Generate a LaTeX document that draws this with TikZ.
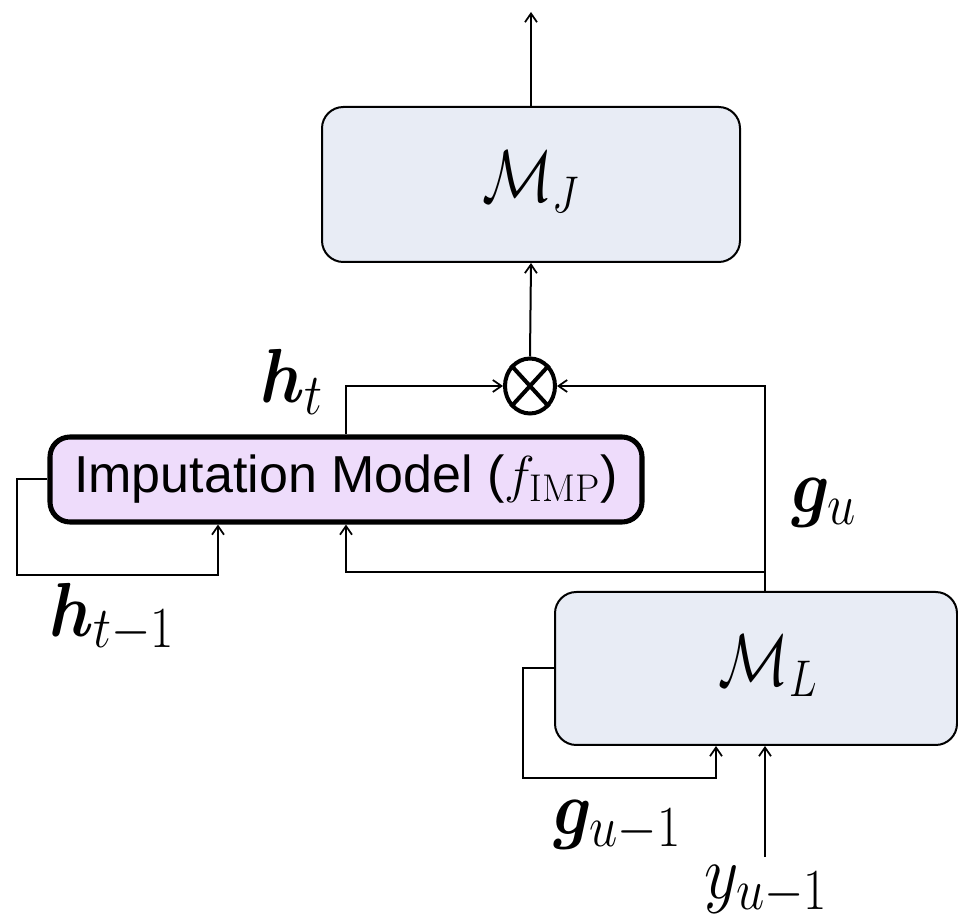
\RequirePackage{fix-cm}
\documentclass[tikz,border=0pt]{standalone}
\usepackage{fontspec}
\setsansfont{Liberation Sans}
\usepackage{bm}
\usepackage{graphicx}
\usetikzlibrary{arrows.meta,calc,shapes.geometric}
\DeclareMathSizes{50}{50}{38}{28}
\DeclareMathSizes{44}{44}{31}{22}
\DeclareMathSizes{39}{39}{29}{20}
\definecolor{boxblue}{HTML}{E8ECF5}
\definecolor{boxlav}{HTML}{EEDCFB}
\newcommand{\lab}[1]{\scalebox{1}[1.15]{$#1$}}
\newcommand{\mlab}[1]{\raisebox{-13pt}[0pt][0pt]{\scalebox{1}[1.25]{$#1$}}}
\begin{document}
\begin{tikzpicture}[x=0.75pt,y=-0.75pt,
  line width=1.5pt,
  arr/.style={-{Straight Barb[length=6.5pt,width=9pt,line width=1.3pt]}},
  mbox/.style={draw,fill=boxblue,rounded corners=16pt,line width=1.5pt,inner sep=0pt,font=\fontsize{44}{52}\selectfont},
  lbl/.style={inner sep=0pt,font=\fontsize{50}{58}\selectfont}]
\useasboundingbox (0,0) rectangle (958,923);
% boxes
\node[mbox,minimum width={418*0.75pt},minimum height={155*0.75pt}] (MJ) at (531,184.5) {\mlab{\mathcal{M}_J}};
\node[mbox,fill=boxlav,line width=3.8pt,rounded corners=15pt,minimum width={592*0.75pt},minimum height={85*0.75pt},font=\sffamily\fontsize{39}{46}\selectfont] (Imp) at (346,479.5) {Imputation Model ($f_{\mathrm{IMP}}$)};
\node[mbox,minimum width={402*0.75pt},minimum height={153*0.75pt}] (ML) at (756,668.5) {\hspace*{18pt}\mlab{\mathcal{M}_L}};
\node[ellipse,draw,line width=3pt,minimum width={50*0.75pt},minimum height={55*0.75pt},inner sep=0pt] (X) at (530,386) {};
\draw[line width=3pt] (X.north west) -- (X.south east) (X.north east) -- (X.south west);
% coordinates
\coordinate (top) at (531,12);
\coordinate (gx) at (765,572);
\coordinate (yin) at (765,857);
% labels
\node[lbl] (ht) at (292,382) {\lab{\bm{h}_t}};
\node[lbl] (gu) at (824,503) {\lab{\bm{g}_u}};
\node[lbl] (htm) at (112,618) {\lab{\bm{h}_{t-1}}};
\node[lbl] (gum) at (617,826) {\lab{\bm{g}_{u-1}}};
\node[lbl] (yum) at (766,890) {\lab{y_{u-1}}};
% connectors
\draw[arr] (MJ.north) -- (top);
\draw[arr] (X.north) -- (MJ.south);
\draw[arr] (Imp.north) |- (X.west);
\draw[arr] (ML.north -| gx) |- (X.east);
\draw[arr] (gx) -| (Imp.south);
\draw[arr] (Imp.west) -- ++(-30,0) |- ($(Imp.south)+(-128,50)$) -- ($(Imp.south)+(-128,0)$);
\draw[arr] (ML.west) -- ++(-31,0) |- ($(ML.south)+(-40,32)$) -- ($(ML.south)+(-40,0)$);
\draw[arr] (yin) -- (ML.south -| yin);
\end{tikzpicture}
\end{document}
